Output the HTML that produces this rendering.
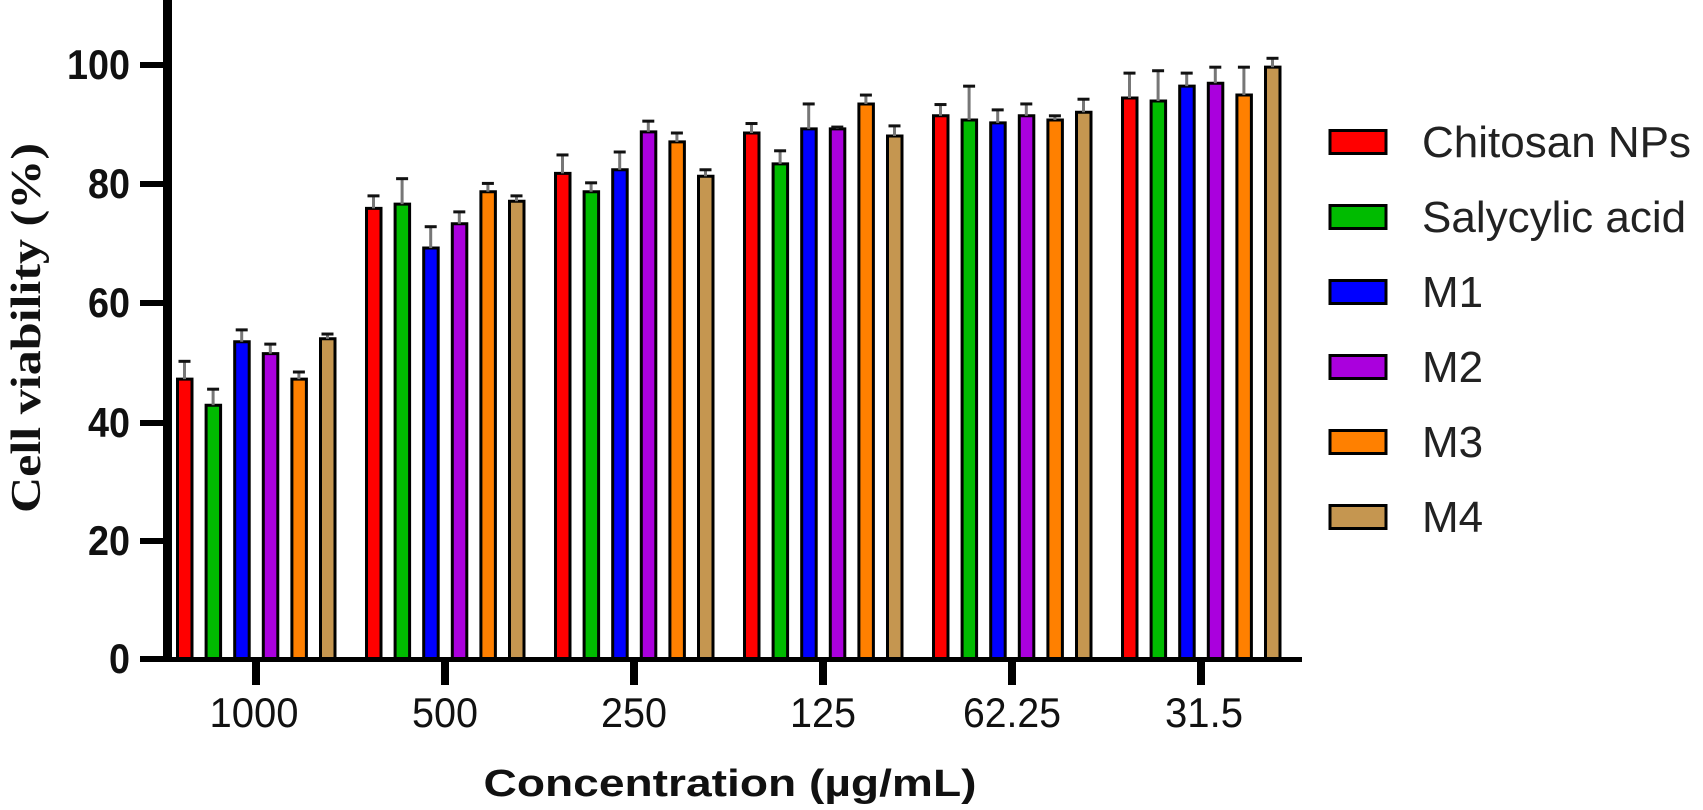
<!DOCTYPE html>
<html><head><meta charset="utf-8"><style>html,body{margin:0;padding:0;background:#fff;}svg{display:block}</style></head>
<body>
<svg width="1703" height="810" viewBox="0 0 1703 810" xmlns="http://www.w3.org/2000/svg">
<defs><style>
.b rect,.b line{vector-effect:non-scaling-stroke}
.b rect{stroke:#000;stroke-width:3}
.s{stroke:#777;stroke-width:3}
.c{stroke:#111;stroke-width:3}
.r{fill:#ff0000}.g{fill:#00bb00}.u{fill:#0000ff}.p{fill:#aa00dd}.o{fill:#ff8000}.t{fill:#c59650}
</style></defs>
<g class="b" transform="translate(0,659) scale(1,-5.93)">
<!-- group 1000 -->
<rect class="r" x="177.5" y="0" width="14.5" height="47.2"/><line class="s" x1="184.5" y1="47.2" x2="184.5" y2="50.2"/><line class="c" x1="178.5" y1="50.2" x2="190.5" y2="50.2"/>
<rect class="g" x="206.1" y="0" width="14.5" height="42.8"/><line class="s" x1="213.1" y1="42.8" x2="213.1" y2="45.5"/><line class="c" x1="207.1" y1="45.5" x2="219.1" y2="45.5"/>
<rect class="u" x="234.7" y="0" width="14.5" height="53.5"/><line class="s" x1="241.7" y1="53.5" x2="241.7" y2="55.5"/><line class="c" x1="235.7" y1="55.5" x2="247.7" y2="55.5"/>
<rect class="p" x="263.3" y="0" width="14.5" height="51.5"/><line class="s" x1="270.3" y1="51.5" x2="270.3" y2="53.1"/><line class="c" x1="264.3" y1="53.1" x2="276.3" y2="53.1"/>
<rect class="o" x="291.9" y="0" width="14.5" height="47.2"/><line class="s" x1="298.9" y1="47.2" x2="298.9" y2="48.4"/><line class="c" x1="292.9" y1="48.4" x2="304.9" y2="48.4"/>
<rect class="t" x="320.5" y="0" width="14.5" height="54.0"/><line class="s" x1="327.5" y1="54.0" x2="327.5" y2="54.8"/><line class="c" x1="321.5" y1="54.8" x2="333.5" y2="54.8"/>
<!-- 500 -->
<rect class="r" x="366.5" y="0" width="14.5" height="76.0"/><line class="s" x1="373.5" y1="76.0" x2="373.5" y2="78.1"/><line class="c" x1="367.5" y1="78.1" x2="379.5" y2="78.1"/>
<rect class="g" x="395.1" y="0" width="14.5" height="76.7"/><line class="s" x1="402.1" y1="76.7" x2="402.1" y2="81.0"/><line class="c" x1="396.1" y1="81.0" x2="408.1" y2="81.0"/>
<rect class="u" x="423.7" y="0" width="14.5" height="69.3"/><line class="s" x1="430.7" y1="69.3" x2="430.7" y2="72.9"/><line class="c" x1="424.7" y1="72.9" x2="436.7" y2="72.9"/>
<rect class="p" x="452.3" y="0" width="14.5" height="73.4"/><line class="s" x1="459.3" y1="73.4" x2="459.3" y2="75.4"/><line class="c" x1="453.3" y1="75.4" x2="465.3" y2="75.4"/>
<rect class="o" x="480.9" y="0" width="14.5" height="78.8"/><line class="s" x1="487.9" y1="78.8" x2="487.9" y2="80.2"/><line class="c" x1="481.9" y1="80.2" x2="493.9" y2="80.2"/>
<rect class="t" x="509.5" y="0" width="14.5" height="77.2"/><line class="s" x1="516.5" y1="77.2" x2="516.5" y2="78.1"/><line class="c" x1="510.5" y1="78.1" x2="522.5" y2="78.1"/>
<!-- 250 -->
<rect class="r" x="555.5" y="0" width="14.5" height="81.9"/><line class="s" x1="562.5" y1="81.9" x2="562.5" y2="85.0"/><line class="c" x1="556.5" y1="85.0" x2="568.5" y2="85.0"/>
<rect class="g" x="584.1" y="0" width="14.5" height="78.8"/><line class="s" x1="591.1" y1="78.8" x2="591.1" y2="80.3"/><line class="c" x1="585.1" y1="80.3" x2="597.1" y2="80.3"/>
<rect class="u" x="612.7" y="0" width="14.5" height="82.5"/><line class="s" x1="619.7" y1="82.5" x2="619.7" y2="85.5"/><line class="c" x1="613.7" y1="85.5" x2="625.7" y2="85.5"/>
<rect class="p" x="641.3" y="0" width="14.5" height="88.9"/><line class="s" x1="648.3" y1="88.9" x2="648.3" y2="90.7"/><line class="c" x1="642.3" y1="90.7" x2="654.3" y2="90.7"/>
<rect class="o" x="669.9" y="0" width="14.5" height="87.2"/><line class="s" x1="676.9" y1="87.2" x2="676.9" y2="88.7"/><line class="c" x1="670.9" y1="88.7" x2="682.9" y2="88.7"/>
<rect class="t" x="698.5" y="0" width="14.5" height="81.4"/><line class="s" x1="705.5" y1="81.4" x2="705.5" y2="82.5"/><line class="c" x1="699.5" y1="82.5" x2="711.5" y2="82.5"/>
<!-- 125 -->
<rect class="r" x="744.5" y="0" width="14.5" height="88.7"/><line class="s" x1="751.5" y1="88.7" x2="751.5" y2="90.3"/><line class="c" x1="745.5" y1="90.3" x2="757.5" y2="90.3"/>
<rect class="g" x="773.1" y="0" width="14.5" height="83.5"/><line class="s" x1="780.1" y1="83.5" x2="780.1" y2="85.7"/><line class="c" x1="774.1" y1="85.7" x2="786.1" y2="85.7"/>
<rect class="u" x="801.7" y="0" width="14.5" height="89.4"/><line class="s" x1="808.7" y1="89.4" x2="808.7" y2="93.6"/><line class="c" x1="802.7" y1="93.6" x2="814.7" y2="93.6"/>
<rect class="p" x="830.3" y="0" width="14.5" height="89.4"/><line class="s" x1="837.3" y1="89.4" x2="837.3" y2="89.7"/><line class="c" x1="831.3" y1="89.7" x2="843.3" y2="89.7"/>
<rect class="o" x="858.9" y="0" width="14.5" height="93.6"/><line class="s" x1="865.9" y1="93.6" x2="865.9" y2="95.1"/><line class="c" x1="859.9" y1="95.1" x2="871.9" y2="95.1"/>
<rect class="t" x="887.5" y="0" width="14.5" height="88.2"/><line class="s" x1="894.5" y1="88.2" x2="894.5" y2="89.9"/><line class="c" x1="888.5" y1="89.9" x2="900.5" y2="89.9"/>
<!-- 62.25 -->
<rect class="r" x="933.5" y="0" width="14.5" height="91.6"/><line class="s" x1="940.5" y1="91.6" x2="940.5" y2="93.5"/><line class="c" x1="934.5" y1="93.5" x2="946.5" y2="93.5"/>
<rect class="g" x="962.1" y="0" width="14.5" height="90.9"/><line class="s" x1="969.1" y1="90.9" x2="969.1" y2="96.6"/><line class="c" x1="963.1" y1="96.6" x2="975.1" y2="96.6"/>
<rect class="u" x="990.7" y="0" width="14.5" height="90.4"/><line class="s" x1="997.7" y1="90.4" x2="997.7" y2="92.6"/><line class="c" x1="991.7" y1="92.6" x2="1003.7" y2="92.6"/>
<rect class="p" x="1019.3" y="0" width="14.5" height="91.6"/><line class="s" x1="1026.3" y1="91.6" x2="1026.3" y2="93.6"/><line class="c" x1="1020.3" y1="93.6" x2="1032.3" y2="93.6"/>
<rect class="o" x="1047.9" y="0" width="14.5" height="90.9"/><line class="s" x1="1054.9" y1="90.9" x2="1054.9" y2="91.6"/><line class="c" x1="1048.9" y1="91.6" x2="1060.9" y2="91.6"/>
<rect class="t" x="1076.5" y="0" width="14.5" height="92.2"/><line class="s" x1="1083.5" y1="92.2" x2="1083.5" y2="94.4"/><line class="c" x1="1077.5" y1="94.4" x2="1089.5" y2="94.4"/>
<!-- 31.5 -->
<rect class="r" x="1122.5" y="0" width="14.5" height="94.6"/><line class="s" x1="1129.5" y1="94.6" x2="1129.5" y2="98.8"/><line class="c" x1="1123.5" y1="98.8" x2="1135.5" y2="98.8"/>
<rect class="g" x="1151.1" y="0" width="14.5" height="94.1"/><line class="s" x1="1158.1" y1="94.1" x2="1158.1" y2="99.2"/><line class="c" x1="1152.1" y1="99.2" x2="1164.1" y2="99.2"/>
<rect class="u" x="1179.7" y="0" width="14.5" height="96.6"/><line class="s" x1="1186.7" y1="96.6" x2="1186.7" y2="98.8"/><line class="c" x1="1180.7" y1="98.8" x2="1192.7" y2="98.8"/>
<rect class="p" x="1208.3" y="0" width="14.5" height="97.1"/><line class="s" x1="1215.3" y1="97.1" x2="1215.3" y2="99.8"/><line class="c" x1="1209.3" y1="99.8" x2="1221.3" y2="99.8"/>
<rect class="o" x="1236.9" y="0" width="14.5" height="95.1"/><line class="s" x1="1243.9" y1="95.1" x2="1243.9" y2="99.8"/><line class="c" x1="1237.9" y1="99.8" x2="1249.9" y2="99.8"/>
<rect class="t" x="1265.5" y="0" width="14.5" height="99.8"/><line class="s" x1="1272.5" y1="99.8" x2="1272.5" y2="101.3"/><line class="c" x1="1266.5" y1="101.3" x2="1278.5" y2="101.3"/>
</g>
<rect x="163" y="0" width="9" height="662" fill="#000"/>
<rect x="140" y="657" width="1162" height="5" fill="#000"/>
<g fill="#000">
<rect x="140" y="62" width="24" height="6"/>
<rect x="140" y="181" width="24" height="6"/>
<rect x="140" y="300" width="24" height="6"/>
<rect x="140" y="420" width="24" height="6"/>
<rect x="140" y="538" width="24" height="6"/>
<rect x="140" y="656" width="24" height="6"/>
<rect x="252" y="660" width="8" height="25"/>
<rect x="441" y="660" width="8" height="25"/>
<rect x="630" y="660" width="8" height="25"/>
<rect x="819" y="660" width="8" height="25"/>
<rect x="1008" y="660" width="8" height="25"/>
<rect x="1197" y="660" width="8" height="25"/>
</g>
<g font-family="Liberation Sans, sans-serif" font-weight="bold" font-size="42" text-anchor="end" fill="#111">
<text x="130" y="79" textLength="63" lengthAdjust="spacingAndGlyphs">100</text>
<text x="130" y="198" textLength="42" lengthAdjust="spacingAndGlyphs">80</text>
<text x="130" y="317" textLength="42" lengthAdjust="spacingAndGlyphs">60</text>
<text x="130" y="437" textLength="42" lengthAdjust="spacingAndGlyphs">40</text>
<text x="130" y="555" textLength="42" lengthAdjust="spacingAndGlyphs">20</text>
<text x="130" y="673" textLength="21" lengthAdjust="spacingAndGlyphs">0</text>
</g>
<g font-family="Liberation Sans, sans-serif" font-size="42" text-anchor="middle" fill="#111">
<text x="254" y="727" textLength="89" lengthAdjust="spacingAndGlyphs">1000</text>
<text x="445" y="727" textLength="66" lengthAdjust="spacingAndGlyphs">500</text>
<text x="634" y="727" textLength="66" lengthAdjust="spacingAndGlyphs">250</text>
<text x="823" y="727" textLength="66" lengthAdjust="spacingAndGlyphs">125</text>
<text x="1012" y="727" textLength="98" lengthAdjust="spacingAndGlyphs">62.25</text>
<text x="1204" y="727" textLength="78" lengthAdjust="spacingAndGlyphs">31.5</text>
</g>
<text x="730" y="796" font-family="Liberation Sans, sans-serif" font-weight="bold" font-size="38" text-anchor="middle" fill="#111" textLength="493" lengthAdjust="spacingAndGlyphs">Concentration (µg/mL)</text>
<text transform="translate(40,328) rotate(-90)" font-family="Liberation Serif, serif" font-weight="bold" font-size="42" text-anchor="middle" fill="#111" textLength="370" lengthAdjust="spacingAndGlyphs">Cell viability (%)</text>
<g stroke="#000" stroke-width="3">
<rect x="1330" y="130.5" width="56" height="23" fill="#ff0000"/>
<rect x="1330" y="205.5" width="56" height="23" fill="#00bb00"/>
<rect x="1330" y="280.5" width="56" height="23" fill="#0000ff"/>
<rect x="1330" y="355.5" width="56" height="23" fill="#aa00dd"/>
<rect x="1330" y="430.5" width="56" height="23" fill="#ff8000"/>
<rect x="1330" y="505.5" width="56" height="23" fill="#c59650"/>
</g>
<g font-family="Liberation Sans, sans-serif" font-size="44" fill="#222">
<text x="1422" y="157">Chitosan NPs</text>
<text x="1422" y="232">Salycylic acid</text>
<text x="1422" y="307">M1</text>
<text x="1422" y="382">M2</text>
<text x="1422" y="457">M3</text>
<text x="1422" y="532">M4</text>
</g>
</svg>
</body></html>
